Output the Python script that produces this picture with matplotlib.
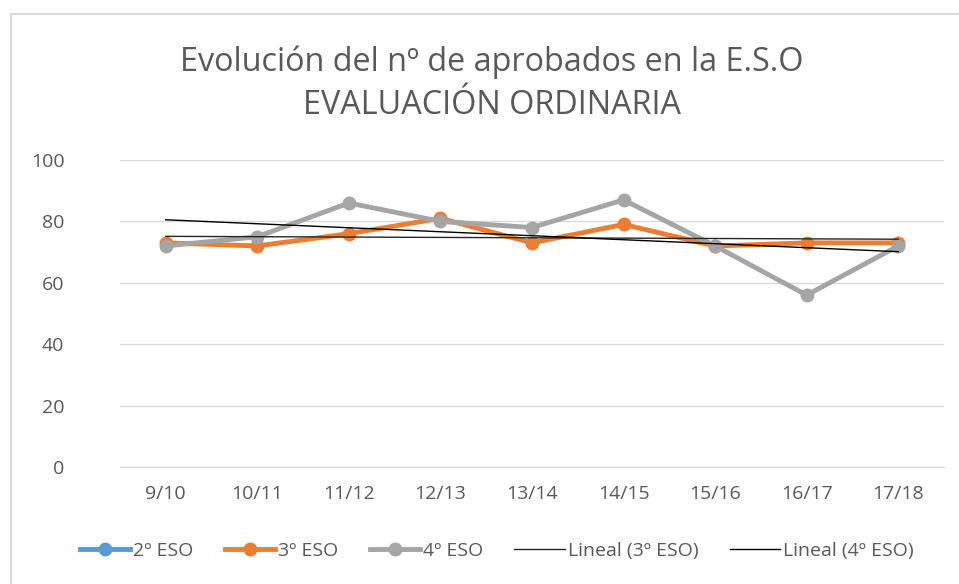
import numpy as np
import matplotlib.pyplot as plt
from matplotlib.patches import Rectangle

# Data
cursos = ['9/10', '10/11', '11/12', '12/13', '13/14', '14/15', '15/16', '16/17', '17/18']
eso2 = [np.nan] * 9
eso3 = [73, 72, 76, 81, 73, 79, 72, 73, 73]
eso4 = [72, 75, 86, 80, 78, 87, 72, 56, 72]
yticks = [0, 20, 40, 60, 80, 100]

plt.rcParams['font.family'] = ['Open Sans', 'DejaVu Sans']
texto = '#595959'

fig = plt.figure(figsize=(9.59, 5.84), dpi=100)
ax = fig.add_axes([120/959, 1 - 467/584, (944 - 120)/959, (467 - 160)/584])

x = np.arange(len(cursos))
ax.plot(x, eso2, color='#5b9bd5', lw=3.5, marker='o', ms=9, label='2º ESO')
ax.plot(x, eso3, color='#ed7d31', lw=3.5, marker='o', ms=9, label='3º ESO', zorder=3)
ax.plot(x, eso4, color='#a5a5a5', lw=3.5, marker='o', ms=9, label='4º ESO', zorder=4)

# Linear trend lines
p3 = np.polyfit(x, eso3, 1)
p4 = np.polyfit(x, eso4, 1)
ax.plot(x, np.polyval(p3, x), color='#262626', lw=1, label='Lineal (3º ESO)', zorder=5)
ax.plot(x, np.polyval(p4, x), color='#000000', lw=1, label='Lineal (4º ESO)', zorder=5)

ax.set_xlim(-0.5, len(cursos) - 0.5)
ax.set_ylim(0, 100)
ax.set_yticks(yticks)
ax.set_xticks(x)
ax.set_xticklabels(cursos)
ax.grid(axis='y', color='#d9d9d9', lw=1)
ax.set_axisbelow(True)
for s in ['top', 'right', 'left']:
    ax.spines[s].set_visible(False)
ax.spines['bottom'].set_color('#d9d9d9')
ax.tick_params(length=0, labelsize=14, colors=texto)
ax.tick_params(axis='y', pad=40)
ax.tick_params(axis='x', pad=13)

fig.text(0.513, 1 - 62/584, 'Evolución del nº de aprobados en la E.S.O', ha='center', va='center',
         fontsize=23.3, color=texto)
fig.text(0.513, 1 - 105/584, 'EVALUACIÓN ORDINARIA', ha='center', va='center',
         fontsize=23.3, color=texto)

fig.legend(loc='center', bbox_to_anchor=(0.518, 1 - 551/584), ncol=5, frameon=False,
           fontsize=14, labelcolor=texto, handlelength=2.6, handletextpad=0.15, columnspacing=1.6)

# chart border
fig.patches.append(Rectangle((11/959, -0.1), 1.2, 1 - 14/584 + 0.1, transform=fig.transFigure,
                             fill=False, edgecolor='#d9d9d9', lw=1.5))

fig.savefig('out.png', dpi=100)
